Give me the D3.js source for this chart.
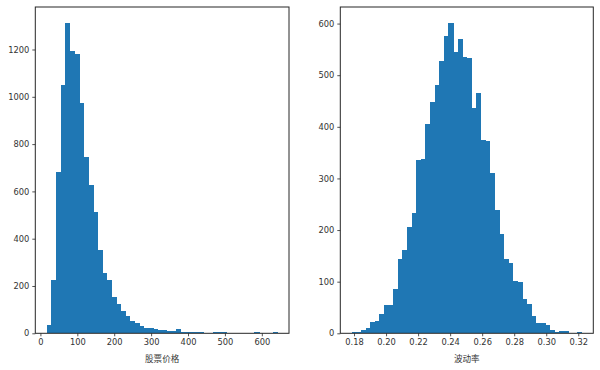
<!DOCTYPE html>
<html>
<head>
<meta charset="utf-8">
<script src="https://cdn.jsdelivr.net/npm/d3@7"></script>
<style>
  body { margin: 0; background: #fff; }
  text { font-family: "DejaVu Sans", "Noto Sans CJK SC", sans-serif; }
</style>
</head>
<body>
<svg id="chart" width="600" height="370"></svg>
<script>
// histogram counts (50 bins each)
const priceCounts = [35,225,681,1048,1314,1192,1180,972,744,626,512,352,255,225,155,124,94,73,53,43,
  31,22,22,18,14,14,10,10,18,5,5,5,5,5,0,0,4,4,4,0,0,0,0,0,0,5,0,0,0,5];
const priceRange = [17.4, 642.4];
const priceTicks = [0,100,200,300,400,500,600];
const priceCountTicks = [0,200,400,600,800,1000,1200];

const volCounts = [2,2,6,10,22,24,37,55,55,86,144,162,206,233,335,337,405,448,481,527,
  576,602,545,570,535,533,436,465,374,372,310,239,192,144,136,101,99,66,57,34,
  20,20,16,6,3,4,4,0,0,3];
const volRange = [0.1786, 0.3222];
const volTicks = [0.18,0.20,0.22,0.24,0.26,0.28,0.30,0.32];
const volCountTicks = [0,100,200,300,400,500,600];

const labels = ["股票价格", "波动率"];

const svg = d3.select("#chart");

function histPanel(counts, range, xTicks, yTicks, fmt, label, left, right) {
  const top = 7, bottom = 333.3;
  const n = counts.length;
  const w = (range[1] - range[0]) / n;
  const bins = counts.map((c, i) => ({ x0: range[0] + i * w, x1: range[0] + (i + 1) * w, c }));
  const pad = (range[1] - range[0]) * 0.05;
  const x = d3.scaleLinear().domain([range[0] - pad, range[1] + pad]).range([left, right]);
  const y = d3.scaleLinear().domain([0, d3.max(counts) * 1.05]).range([bottom, top]);

  const g = svg.append("g");
  g.append("g")
    .attr("shape-rendering", "crispEdges")
    .selectAll("rect")
    .data(bins.filter(d => d.c > 0))
    .join("rect")
    .attr("x", d => x(d.x0))
    .attr("width", d => x(d.x1) - x(d.x0) + 0.6)
    .attr("y", d => y(d.c))
    .attr("height", d => y(0) - y(d.c))
    .attr("fill", "#1f77b4");

  const xAxis = g.append("g")
    .attr("transform", `translate(0,${bottom})`)
    .call(d3.axisBottom(x).tickValues(xTicks).tickFormat(fmt).tickSize(3).tickPadding(2.5));
  const yAxis = g.append("g")
    .attr("transform", `translate(${left},0)`)
    .call(d3.axisLeft(y).tickValues(yTicks).tickFormat(d3.format("d")).tickSize(3).tickPadding(3));
  [xAxis, yAxis].forEach(a => {
    a.select(".domain").remove();
    a.selectAll(".tick line").attr("stroke", "#262626").attr("stroke-width", 0.8);
    a.selectAll(".tick text").attr("fill", "#333").attr("font-size", 8.3);
  });

  g.append("rect")
    .attr("x", left).attr("y", top)
    .attr("width", right - left).attr("height", bottom - top)
    .attr("fill", "none").attr("stroke", "#262626").attr("stroke-width", 1);

  g.append("text")
    .attr("x", (left + right) / 2).attr("y", 362)
    .attr("text-anchor", "middle")
    .attr("font-size", 8.6).attr("fill", "#333")
    .text(label);
}

histPanel(priceCounts, priceRange, priceTicks, priceCountTicks, d3.format("d"), labels[0], 35.3, 289);
histPanel(volCounts, volRange, volTicks, volCountTicks, d3.format(".2f"), labels[1], 340.3, 593.3);
</script>
</body>
</html>
